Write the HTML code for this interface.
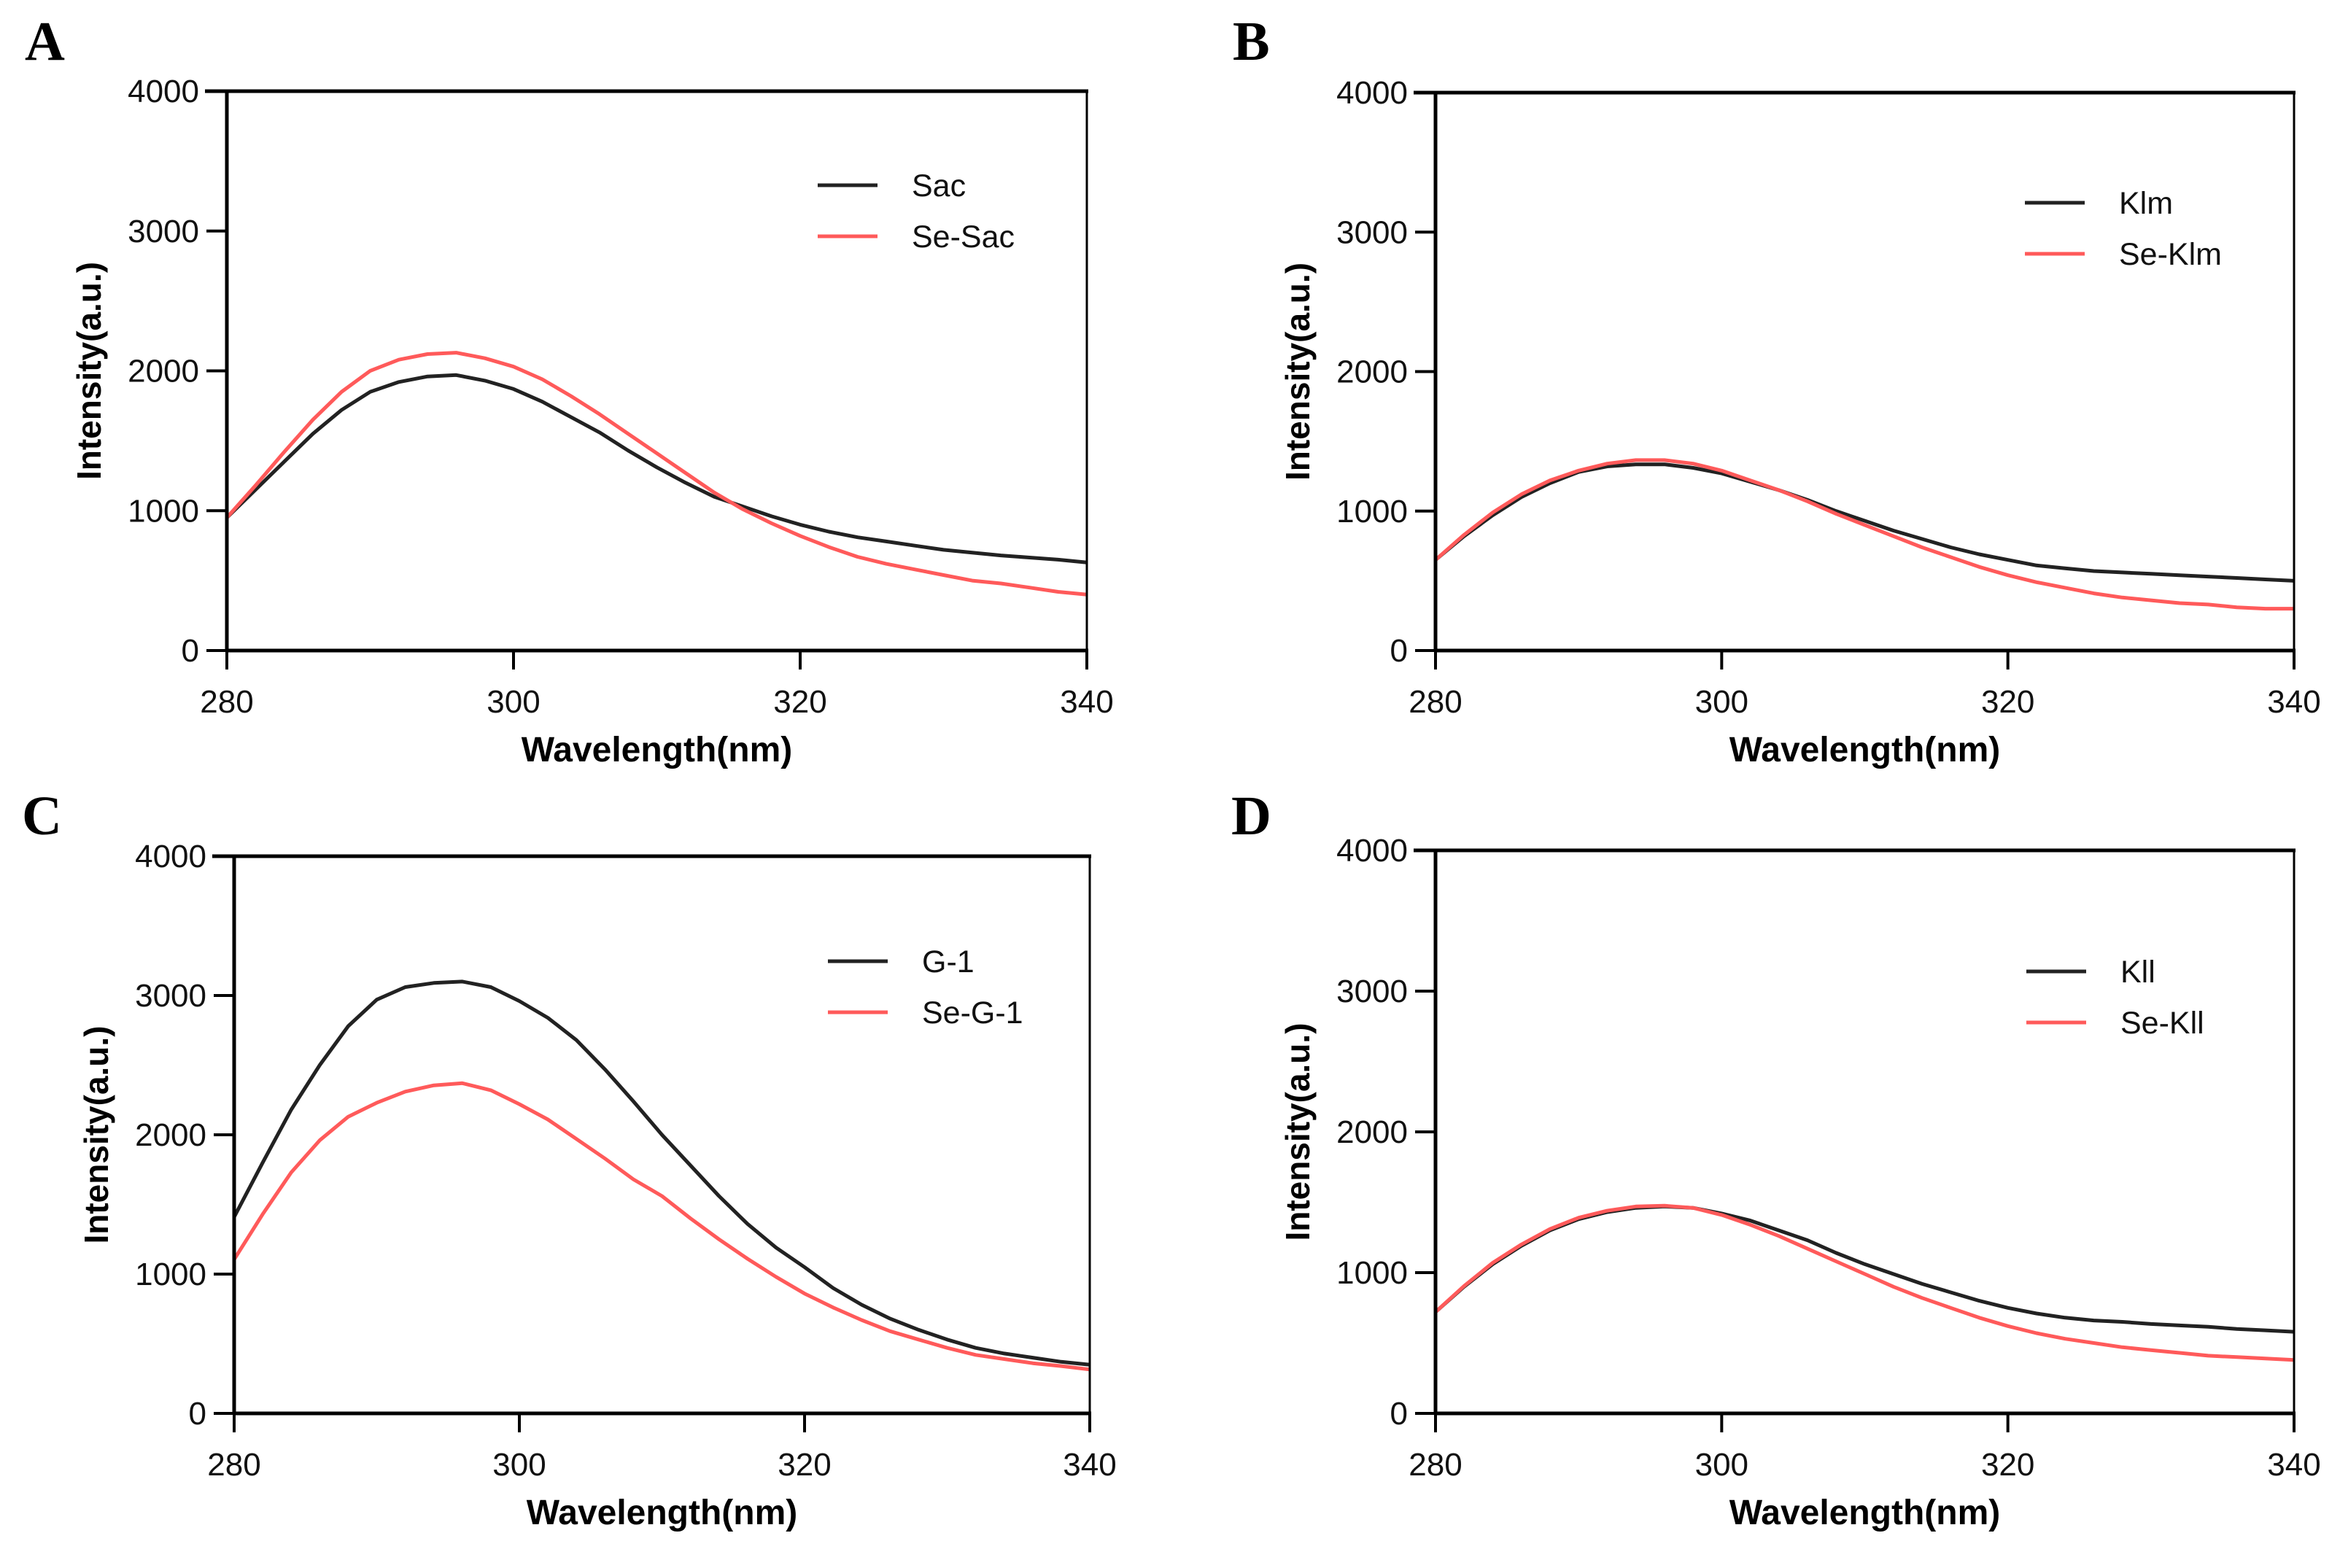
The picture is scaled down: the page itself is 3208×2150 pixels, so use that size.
<!DOCTYPE html>
<html><head><meta charset="utf-8"><style>
html,body{margin:0;padding:0;background:#fff;}
svg{display:block;}
text{font-family:"Liberation Sans",Arial,sans-serif;}
</style></head><body>
<svg id="fig" width="3208" height="2150" viewBox="0 0 3208 2150" xmlns="http://www.w3.org/2000/svg"></svg>
<script>
const wavelengths = [280,282,284,286,288,290,292,294,296,298,300,302,304,306,308,310,312,314,316,318,320,322,324,326,328,330,332,334,336,338,340];
const xTicks = [280,300,320,340];
const yTicks = [0,1000,2000,3000,4000];
const sacValues   = [950,1150,1350,1550,1720,1850,1920,1960,1970,1930,1870,1780,1670,1560,1430,1310,1200,1100,1030,960,900,850,810,780,750,720,700,680,665,650,630];
const seSacValues = [950,1180,1420,1650,1850,2000,2080,2120,2130,2090,2030,1940,1820,1690,1550,1410,1270,1130,1010,910,820,740,670,620,580,540,500,480,450,420,400];
const klmValues   = [650,820,970,1100,1200,1280,1320,1335,1335,1310,1270,1210,1150,1080,1000,930,860,800,740,690,650,610,590,570,560,550,540,530,520,510,500];
const seKlmValues = [650,830,990,1120,1220,1290,1340,1365,1365,1340,1290,1220,1150,1070,980,900,820,740,670,600,540,490,450,410,380,360,340,330,310,300,300];
const g1Values    = [1410,1800,2180,2500,2780,2970,3060,3090,3100,3060,2960,2840,2680,2470,2240,2000,1780,1560,1360,1190,1050,900,780,680,600,530,470,430,400,370,350];
const seG1Values  = [1105,1430,1730,1960,2130,2230,2310,2355,2370,2320,2220,2110,1970,1830,1680,1560,1400,1250,1110,980,860,760,670,590,530,470,420,390,360,340,315];
const kllValues   = [720,900,1060,1190,1300,1380,1430,1460,1470,1460,1420,1370,1300,1230,1140,1060,990,920,860,800,750,710,680,660,650,635,625,615,600,590,580];
const seKllValues = [720,905,1070,1200,1310,1390,1440,1470,1475,1460,1410,1340,1260,1170,1080,990,900,820,750,680,620,570,530,500,470,450,430,410,400,390,380];

const NS = "http://www.w3.org/2000/svg";
const svg = document.getElementById('fig');
function mk(tag, attrs, parent, txt){
  const e = document.createElementNS(NS, tag);
  for (const k in attrs) e.setAttribute(k, attrs[k]);
  if (txt !== undefined) e.textContent = txt;
  parent.appendChild(e);
  return e;
}
const panels = [
  {id:'a', letter:'A', x0:311, x1:1490, y0:125, y1:892, lx:1121, ly:254, names:['Sac','Se-Sac'], s:[sacValues, seSacValues], letterX:34, letterY:82},
  {id:'b', letter:'B', x0:1968, x1:3145, y0:127, y1:892, lx:2776, ly:278, names:['Klm','Se-Klm'], s:[klmValues, seKlmValues], letterX:1690, letterY:82},
  {id:'c', letter:'C', x0:321, x1:1494, y0:1174, y1:1938, lx:1135, ly:1318, names:['G-1','Se-G-1'], s:[g1Values, seG1Values], letterX:30, letterY:1144},
  {id:'d', letter:'D', x0:1968, x1:3145, y0:1166, y1:1938, lx:2778, ly:1332, names:['Kll','Se-Kll'], s:[kllValues, seKllValues], letterX:1688, letterY:1144}
];
const colors = ['#222222','#ff5a5a'];
panels.forEach(p => {
  const g = mk('g', {}, svg);
  
  
  const xs = v => p.x0 + (v - 280) / 60 * (p.x1 - p.x0);
  const ys = v => p.y1 - v / 4000 * (p.y1 - p.y0);
  const L = mk('text', {x:p.letterX, y:p.letterY, 'font-size':76, 'font-weight':'bold', style:'font-family:"Liberation Serif",serif'}, g, p.letter);
  
  
  p.s.forEach((vals, si) => {
    const d = vals.map((v, i) => (i ? 'L' : 'M') + xs(wavelengths[i]).toFixed(1) + ' ' + ys(v).toFixed(1)).join(' ');
    const path = mk('path', {d:d, fill:'none', stroke:colors[si], 'stroke-width':5, 'stroke-linejoin':'round'}, g);
    
    
  });
  const frame = mk('g', {}, g);
  
  
  mk('line', {x1:p.x0-30, y1:p.y0, x2:p.x1+2, y2:p.y0, stroke:'#000', 'stroke-width':5}, frame);
  mk('line', {x1:p.x1, y1:p.y0, x2:p.x1, y2:p.y1, stroke:'#000', 'stroke-width':3}, frame);
  mk('line', {x1:p.x0, y1:p.y0, x2:p.x0, y2:p.y1, stroke:'#000', 'stroke-width':5}, frame);
  mk('line', {x1:p.x0, y1:p.y1, x2:p.x1+2, y2:p.y1, stroke:'#000', 'stroke-width':5}, frame);
  const ya = mk('g', {}, g);
  
  
  yTicks.forEach(t => {
    mk('line', {x1:p.x0-28, y1:ys(t), x2:p.x0, y2:ys(t), stroke:'#000', 'stroke-width':4}, ya);
    const tl = mk('text', {x:p.x0-38, y:ys(t)+15, 'font-size':44, 'text-anchor':'end', fill:'#111'}, ya, String(t));
    
    
  });
  const xa = mk('g', {}, g);
  
  
  xTicks.forEach(t => {
    mk('line', {x1:xs(t), y1:p.y1, x2:xs(t), y2:p.y1+26, stroke:'#000', 'stroke-width':4}, xa);
    const tl = mk('text', {x:xs(t), y:p.y1+85, 'font-size':44, 'text-anchor':'middle', fill:'#111'}, xa, String(t));
    
    
  });
  const xt = mk('text', {x:(p.x0+p.x1)/2, y:p.y1+152, 'font-size':48, 'font-weight':'bold', 'text-anchor':'middle'}, g, 'Wavelength(nm)');
  
  
  const cy = (p.y0+p.y1)/2;
  const yt = mk('text', {x:0, y:0, 'font-size':46, 'font-weight':'bold', 'text-anchor':'middle', transform:`translate(${p.x0-173},${cy}) rotate(-90)`}, g, 'Intensity(a.u.)');
  
  
  p.names.forEach((n, i) => {
    const le = mk('g', {}, g);
    
    
    const y = p.ly + i * 70;
    mk('line', {x1:p.lx, y1:y, x2:p.lx+82, y2:y, stroke:colors[i], 'stroke-width':5}, le);
    mk('text', {x:p.lx+129, y:y+15, 'font-size':43, fill:'#111'}, le, n);
  });
});
</script>
</body></html>
